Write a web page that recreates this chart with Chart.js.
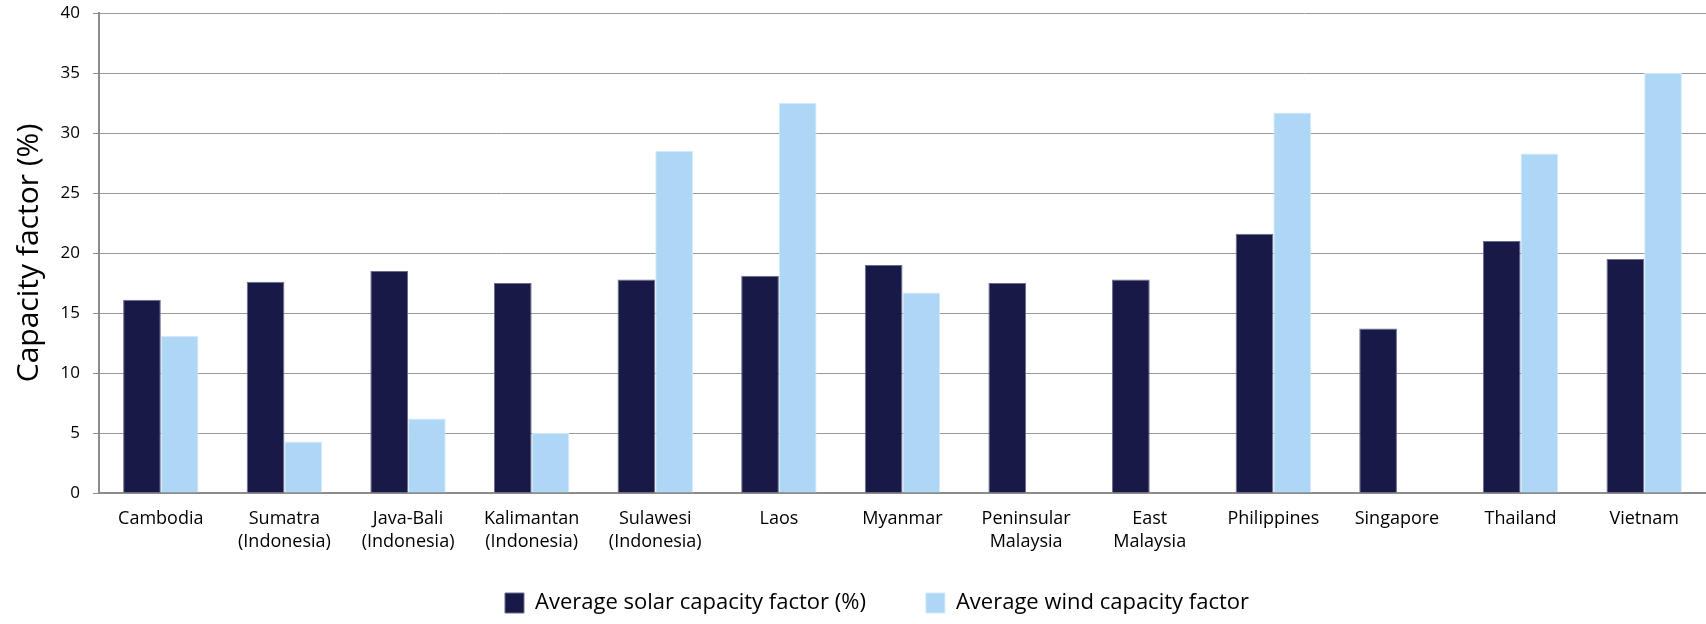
<!DOCTYPE html>
<html>
<head>
<meta charset="utf-8">
<script src="https://cdn.jsdelivr.net/npm/chart.js@4"></script>
<style>
  html, body { margin: 0; padding: 0; background: #fff; }
  #wrap { width: 1706px; height: 624px; }
</style>
</head>
<body>
<div id="wrap"><canvas id="cfChart"></canvas></div>
<script>
// --- Data ---
const regions = [
  "Cambodia", ["Sumatra", "(Indonesia)"], ["Java-Bali", "(Indonesia)"],
  ["Kalimantan", "(Indonesia)"], ["Sulawesi", "(Indonesia)"], "Laos", "Myanmar",
  ["Peninsular", "Malaysia"], ["East", "Malaysia"], "Philippines", "Singapore",
  "Thailand", "Vietnam"
];
const solarFactor = [16.1, 17.6, 18.5, 17.5, 17.8, 18.1, 19.0, 17.5, 17.8, 21.6, 13.7, 21.0, 19.5];
const windFactor = [13.1, 4.3, 6.2, 5.0, 28.5, 32.5, 16.7, null, null, 31.7, null, 28.3, 35.0];
const yTicks = [0, 5, 10, 15, 20, 25, 30, 35, 40];

const fontFamily = "'Open Sans', 'Noto Sans', sans-serif";
const legendShift = 24; // legend sits a bit right of the canvas centre in the original

// nudge the legend sideways after layout
const shiftLegend = {
  id: "shiftLegend",
  afterLayout(chart) {
    if (!chart.legend) return;
    chart.legend.left += legendShift;
    chart.legend.right += legendShift;
  },
};

const ctx = document.getElementById("cfChart").getContext("2d");
new Chart(ctx, {
  type: "bar",
  data: {
    labels: regions,
    datasets: [
      {
        label: "Average solar capacity factor (%)",
        data: solarFactor,
        backgroundColor: "#191947",
        borderColor: "#6c6c8e",
        borderWidth: 1,
      },
      {
        label: "Average wind capacity factor",
        data: windFactor,
        backgroundColor: "#add7f5",
        borderColor: "#d3eafb",
        borderWidth: 1,
      },
    ],
  },
  options: {
    responsive: true,
    maintainAspectRatio: false,
    animation: false,
    categoryPercentage: 0.61,
    barPercentage: 1,
    layout: { padding: { top: 13, left: 0, right: 0, bottom: 0 } },
    scales: {
      x: {
        grid: { display: false },
        border: { display: true, color: "#8c8c8c", width: 2 },
        ticks: {
          color: "#000",
          padding: 6,
          maxRotation: 0,
          autoSkip: false,
          font: { family: fontFamily, size: 18, lineHeight: 1.28 },
        },
        afterFit: (axis) => {
          axis.height = 39;
          // let the second label line run into the legend's empty top band
          axis._computeLabelArea = () => undefined;
        },
      },
      y: {
        min: 0,
        max: 40,
        afterBuildTicks: (axis) => { axis.ticks = yTicks.map((v) => ({ value: v })); },
        grid: { color: "#9a9a9a", lineWidth: 1, tickLength: 6, tickColor: "#8c8c8c" },
        border: { display: true, color: "#8c8c8c", width: 2 },
        ticks: {
          color: "#000",
          padding: 13,
          font: { family: fontFamily, size: 17 },
        },
        title: {
          display: true,
          text: "Capacity factor (%)",
          color: "#000",
          padding: { top: 11, bottom: 0 },
          font: { family: fontFamily, size: 30 },
        },
        afterFit: (axis) => {
          axis.width = 99;
          axis.paddingTop = 0;
          axis.paddingBottom = 0;
        },
      },
    },
    plugins: {
      legend: {
        position: "bottom",
        labels: {
          boxWidth: 19,
          boxHeight: 20,
          padding: 60,
          color: "#000",
          font: { family: fontFamily, size: 22 },
        },
      },
      tooltip: { enabled: false },
    },
  },
  plugins: [shiftLegend],
});
</script>
</body>
</html>
